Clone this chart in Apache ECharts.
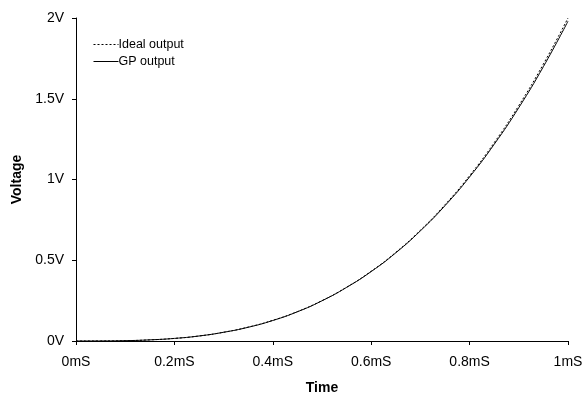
<!DOCTYPE html>
<html>
<head>
<meta charset="utf-8">
<script src="https://cdn.jsdelivr.net/npm/echarts@6/dist/echarts.min.js"></script>
<style>
  html, body { margin: 0; padding: 0; background: #fff; }
  #chart { width: 587px; height: 395px; }
</style>
</head>
<body>
<div id="chart"></div>
<script>
// time in mS
let times = [0, 0.05, 0.1, 0.15, 0.2, 0.25, 0.3, 0.35, 0.4, 0.45, 0.5,
    0.55, 0.6, 0.65, 0.7, 0.75, 0.8, 0.85, 0.9, 0.95, 1.0];
let idealOut = [0, 0.0003, 0.002, 0.007, 0.016, 0.031, 0.054, 0.086, 0.128, 0.182, 0.25,
    0.333, 0.432, 0.549, 0.686, 0.844, 1.024, 1.228, 1.458, 1.715, 2.0];
let gpOut = [0, 0.0003, 0.002, 0.007, 0.016, 0.031, 0.054, 0.085, 0.127, 0.181, 0.249,
    0.332, 0.43, 0.546, 0.682, 0.838, 1.016, 1.218, 1.445, 1.699, 1.98];
let xTicks = ['0mS', '0.2mS', '0.4mS', '0.6mS', '0.8mS', '1mS'];
let yTicks = ['0V', '0.5V', '1V', '1.5V', '2V'];

(function () {
    let chart = echarts.init(document.getElementById('chart'));
    let font = 'Liberation Sans, Arial, sans-serif';

    function pairs(ys) {
        return times.map(function (t, i) { return [t, ys[i]]; });
    }

    let option = {
        animation: false,
        backgroundColor: '#fff',
        textStyle: { fontFamily: font },
        legend: {
            orient: 'vertical',
            left: 88,
            top: 33,
            itemWidth: 25,
            itemHeight: 10,
            itemGap: 4,
            itemStyle: { opacity: 0 },
            lineStyle: { width: 1 },
            textStyle: { fontSize: 12.5, color: '#000', fontFamily: font, padding: [0, 0, 0, -5] },
            data: ['Ideal output', 'GP output']
        },
        grid: { left: 76, right: 19, top: 18, bottom: 54, outerBoundsMode: 'none' },
        xAxis: {
            type: 'value',
            min: 0,
            max: 1,
            interval: 0.2,
            name: 'Time',
            nameLocation: 'middle',
            nameGap: 40,
            nameTextStyle: { fontWeight: 'bold', fontSize: 14, color: '#000', fontFamily: font },
            axisLine: { lineStyle: { color: '#000', width: 1 } },
            axisTick: { show: true, inside: false, length: 4, lineStyle: { color: '#000' } },
            splitLine: { show: false },
            axisLabel: {
                fontSize: 14, color: '#000', fontFamily: font, margin: 14,
                formatter: function (v) { return xTicks[Math.round(v / 0.2)]; }
            }
        },
        yAxis: {
            type: 'value',
            min: 0,
            max: 2,
            interval: 0.5,
            name: 'Voltage',
            nameLocation: 'middle',
            nameGap: 50,
            nameRotate: 90,
            nameTextStyle: { fontWeight: 'bold', fontSize: 14, color: '#000', fontFamily: font },
            axisLine: { show: true, lineStyle: { color: '#000', width: 1 } },
            axisTick: { show: true, inside: false, length: 4, lineStyle: { color: '#000' } },
            splitLine: { show: false },
            axisLabel: {
                fontSize: 14, color: '#000', fontFamily: font, margin: 12,
                formatter: function (v) { return yTicks[Math.round(v / 0.5)]; }
            }
        },
        series: [
            {
                name: 'Ideal output',
                type: 'line',
                smooth: true,
                symbol: 'none',
                data: pairs(idealOut),
                lineStyle: { color: '#000', width: 1, type: [2, 2] },
                itemStyle: { color: '#000' }
            },
            {
                name: 'GP output',
                type: 'line',
                smooth: true,
                symbol: 'none',
                data: pairs(gpOut),
                lineStyle: { color: '#000', width: 1 },
                itemStyle: { color: '#000' }
            }
        ]
    };

    chart.setOption(option);
})();
</script>
</body>
</html>
